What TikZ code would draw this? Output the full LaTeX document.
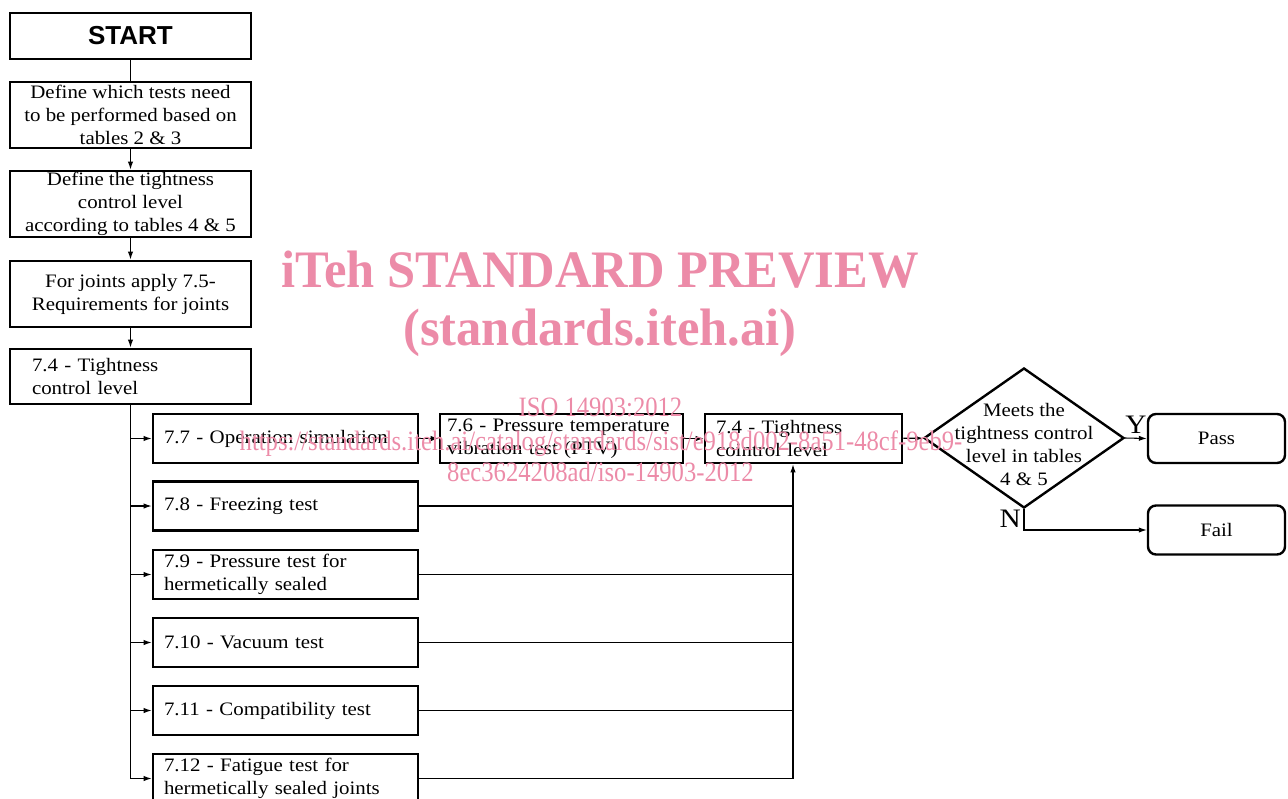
\documentclass[tikz,border=0pt]{standalone}
\usepackage{fontspec}
\usepackage{graphicx}
\setmainfont[FakeStretch=1.1]{Liberation Serif}
\newfontfamily\wmfont{Liberation Serif}
\newfontfamily\startfont{Liberation Sans}
\usetikzlibrary{arrows.meta,shapes.geometric}
\definecolor{wmpink}{RGB}{236,139,168}

\begin{document}
\begin{tikzpicture}[x=0.75pt, y=-0.75pt,
  every node/.style={font=\fontsize{14.25}{17.25}\selectfont},
  box/.style={draw, line width=2pt, inner ysep=0pt, minimum height=36.75pt},
  cbox/.style={box, align=center, inner xsep=0pt, minimum width=180.75pt},
  lbox/.style={box, align=left},
  rbox/.style={draw, line width=1.8pt, rounded corners=6pt, minimum width=102.75pt, minimum height=36.75pt},
  conn/.style={line width=0.8pt},
  arr/.style={conn, -{Latex[length=6pt,width=4pt]}},
  wm/.style={text=wmpink, inner sep=0pt, anchor=base}]
  \useasboundingbox (0,0) rectangle (1288,799);
  % left column
  \node[cbox, minimum height=34.5pt, font={\startfont\bfseries\fontsize{19.5}{22}\selectfont}] (start) at (130.5,36) {START};
  \node[cbox, minimum height=49.5pt] (tests) at (130.5,115) {Define which tests need\\to be performed based on\\tables 2 \& 3};
  \node[cbox, minimum height=49.5pt] (level) at (130.5,204) {Define the tightness\\control level\\according to tables 4 \& 5};
  \node[cbox, minimum height=49.5pt] (joints) at (130.5,294) {For joints apply 7.5-\\Requirements for joints};
  \node[lbox, minimum width=180.75pt, minimum height=41.25pt, inner xsep=16.5pt, text width=147.75pt] (tight) at (130.5,376.5) {7.4 - Tightness\\control level};
  \draw[conn] (start) -- (tests);
  \draw[arr] (tests) -- (level);
  \draw[arr] (level) -- (joints);
  \draw[arr] (joints) -- (tight);
  % test boxes
  \foreach \n/\y/\txt in {t7/438.5/{7.7 - Operation simulation}, t8/506/{7.8 - Freezing test}, t9/574.5/{7.9 - Pressure test for\\hermetically sealed}, t10/642.5/{7.10 - Vacuum test}, t11/710.5/{7.11 - Compatibility test}, t12/778.5/{7.12 - Fatigue test for\\hermetically sealed joints}}
    \node[lbox, minimum width=198.75pt, inner xsep=8.25pt, text width=182.25pt] (\n) at (285.5,\y) {\txt};
  \draw[conn] (tight.south) -- (tight.south |- t12.west);
  \foreach \n in {t7,t8,t9,t10,t11,t12} \draw[arr] (tight.south |- \n.west) -- (\n.west);
  % top row
  \node[lbox, minimum width=182.25pt, inner xsep=5.25pt, text width=171.75pt] (ptv) at (561.5,438.5) {7.6 - Pressure temperature\\vibration test (PTV)};
  \node[lbox, minimum width=147.75pt, inner xsep=8.25pt, text width=131.25pt] (tight2) at (803.5,438.5) {7.4 - Tightness\\cointrol level};
  \node[draw, diamond, line width=1.8pt, minimum width=150pt, minimum height=105pt, inner sep=0pt] (meets) at (1024,438) {};
  \node[align=center] (meetstxt) at (1024,444.5) {Meets the\\tightness control\\level in tables\\4 \& 5};
  \node[rbox] (pass) at (1216.5,438.5) {Pass};
  \node[rbox] (fail) at (1216.5,530) {Fail};
  \draw[arr] (t7) -- (ptv);
  \draw[arr] (ptv) -- (tight2);
  \draw[arr] (tight2) -- (meets);
  \coordinate (bus) at (793,778.5);
  \foreach \n in {t8,t9,t10,t11,t12} \draw[conn] (\n.east) -- (\n.east -| bus);
  \draw[arr] (bus) -- (bus |- tight2.south);
  \draw[arr] (meets.east) -- node[above, inner sep=3pt, font=\fontsize{20}{22}\selectfont] (yes) {Y} (pass.west);
  \draw[arr] (meets.south) |- node[pos=0.22, left, inner sep=2pt, font=\fontsize{20}{22}\selectfont] (no) {N} (fail.west);
  % watermark
  \node[wm, font={\wmfont\bfseries\fontsize{39.5}{40}\selectfont}] (wm1) at (600,287) {\scalebox{0.96}[1]{iTeh STANDARD PREVIEW}};
  \node[wm, font={\wmfont\bfseries\fontsize{39.5}{40}\selectfont}] (wm2) at (600,345) {\scalebox{0.96}[1]{(standards.iteh.ai)}};
  \node[wm, font={\wmfont\fontsize{21}{22}\selectfont}] (wm3) at (600.5,416) {\scalebox{0.88}[1]{ISO 14903:2012}};
  \node[wm, font={\wmfont\fontsize{21}{22}\selectfont}] (wm4) at (601,450) {\scalebox{0.88}[1]{https://standards.iteh.ai/catalog/standards/sist/e918d002-8a51-48cf-9eb9-}};
  \node[wm, font={\wmfont\fontsize{21}{22}\selectfont}] (wm5) at (600.5,481) {\scalebox{0.88}[1]{8ec3624208ad/iso-14903-2012}};
\end{tikzpicture}
\end{document}
